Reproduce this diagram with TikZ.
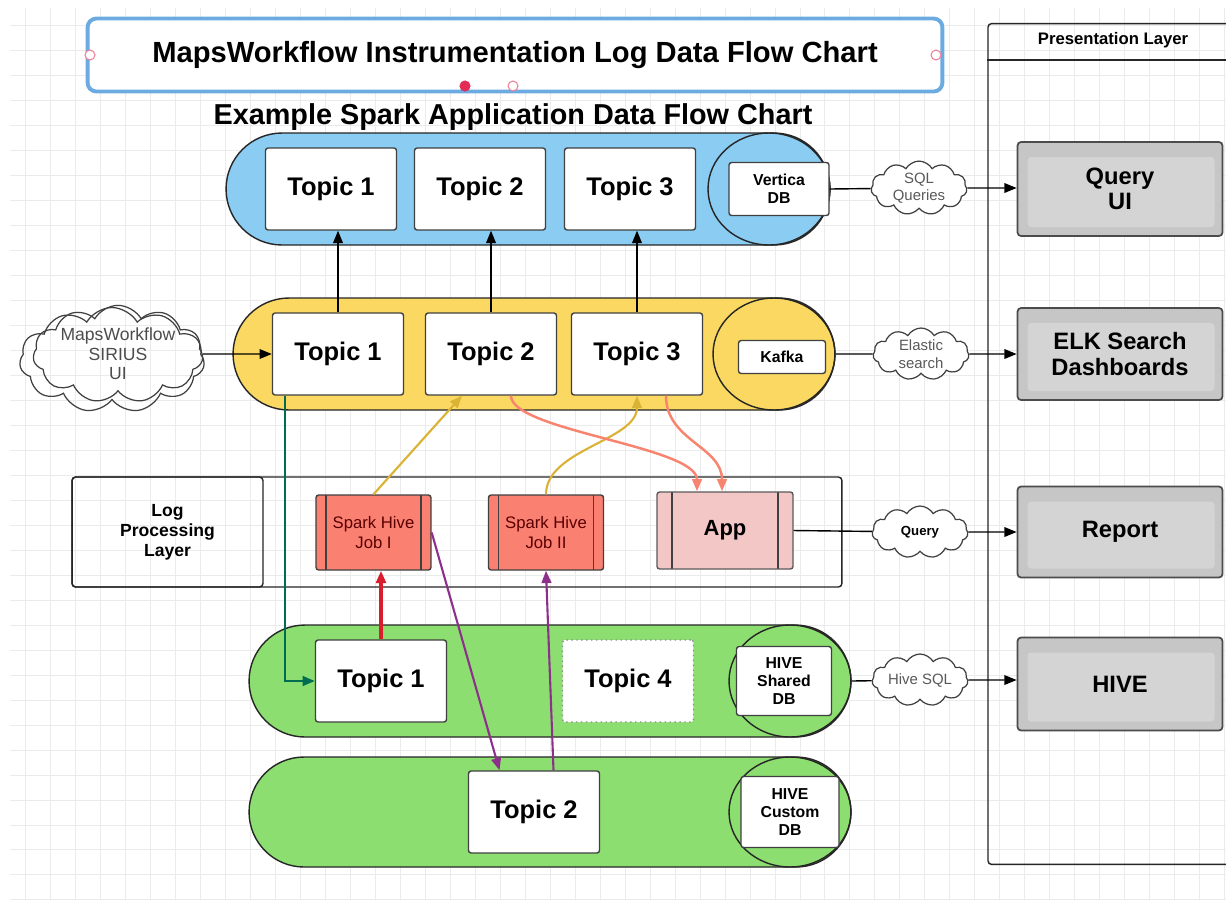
\documentclass[tikz,border=0pt]{standalone}
\usepackage{fontspec}
\setmainfont{Liberation Sans}
\usepackage{tikz}
\usetikzlibrary{shapes.misc,shapes.symbols,shapes.geometric,arrows.meta,positioning}
\definecolor{pillblue}{RGB}{138,204,242}
\definecolor{pillyellow}{RGB}{250,216,98}
\definecolor{pillgreen}{RGB}{140,222,112}
\definecolor{jobred}{RGB}{250,128,114}
\definecolor{apppink}{RGB}{244,199,199}
\definecolor{titleblue}{RGB}{108,170,226}
\definecolor{goldarr}{RGB}{218,178,52}
\definecolor{salmonarr}{RGB}{248,132,112}
\definecolor{purplearr}{RGB}{140,48,140}
\definecolor{redarr}{RGB}{218,28,44}
\definecolor{tealarr}{RGB}{0,108,80}
\definecolor{boxgray}{RGB}{198,198,198}
\definecolor{boxgrayin}{RGB}{212,212,212}
\definecolor{handlered}{RGB}{225,45,85}

\begin{document}
\begin{tikzpicture}[x=0.02cm,y=-0.02cm,
  pill/.style={rounded rectangle,draw=black!85,line width=0.8pt,minimum height=2.24cm,inner sep=0pt},
  dbring/.style={ellipse,draw=black!85,line width=0.8pt,minimum width=2.44cm,minimum height=2.24cm,inner sep=0pt},
  topic/.style={draw=black!75,fill=white,line width=0.8pt,rounded corners=1.5pt,minimum width=2.62cm,minimum height=1.64cm,font=\fontsize{14.5}{16}\selectfont\bfseries},
  dbbox/.style={draw=black!75,fill=white,line width=0.8pt,rounded corners=1.5pt,align=center,inner sep=1pt,font=\fontsize{9}{10.5}\selectfont\bfseries},
  jobbox/.style={draw=black!75,line width=0.8pt,rounded corners=1.5pt,align=center,
    path picture={\draw[black!75,line width=0.8pt]
      ([xshift=#1]path picture bounding box.north west) -- ([xshift=#1]path picture bounding box.south west)
      ([xshift=-#1]path picture bounding box.north east) -- ([xshift=-#1]path picture bounding box.south east);}},
  presbox/.style={draw=black!70,fill=boxgray,line width=1pt,rounded corners=2pt,minimum width=4.1cm,align=center,
    font=\fontsize{13.5}{14.5}\selectfont\bfseries,
    path picture={\fill[boxgrayin] ([shift={(0.2cm,-0.3cm)}]path picture bounding box.north west)
      rectangle ([shift={(-0.16cm,0.18cm)}]path picture bounding box.south east);}},
  cloudn/.style={cloud,cloud puffs=11,cloud puff arc=120,cloud ignores aspect,draw=black!75,fill=white,line width=0.7pt,
    align=center,inner sep=0pt,minimum width=1.92cm,minimum height=1.04cm,text=black!65,font=\fontsize{8.5}{10}\selectfont},
  handle/.style={circle,draw=handlered!60,fill=white,line width=0.6pt,inner sep=0pt,minimum size=0.2cm},
  arr/.style={-{Triangle[length=7pt,width=5.5pt]},line width=0.8pt}]
\useasboundingbox (0,0) rectangle (1226,907);
\clip (0,0) rectangle (1226,907);
\fill[white] (0,0) rectangle (1226,907);
\draw[step=0.5cm,black!8,line width=0.4pt] (10,8) grid (1226,900);

\node[draw=titleblue,line width=2.2pt,rounded corners=5pt,fill=white,minimum width=17.1cm,minimum height=1.46cm,
  font=\fontsize{16.6}{18}\selectfont\bfseries] (title) at (515,55) {MapsWorkflow Instrumentation Log Data Flow Chart};
\node[handle] (h1) at (90,55) {};
\node[handle] (h2) at (936,55) {};
\node[handle] (h3) at (513,86) {};
\node[handle,fill=handlered,draw=handlered] (h4) at (465,86) {};
\node[font=\fontsize{16.4}{18}\selectfont\bfseries] (sub) at (513,117) {Example Spark Application Data Flow Chart};

\node[draw=black!85,line width=0.8pt,rounded corners=2pt,minimum width=5.04cm,minimum height=16.82cm] (pl) at (1114,444) {};
\draw[black!85,line width=0.8pt] (pl.west |- 0,60) -- (pl.east |- 0,60);
\node[font=\fontsize{9.5}{11}\selectfont\bfseries] (plt) at (1113,40) {Presentation Layer};
\node[presbox,minimum height=1.88cm] (qui) at (1120,189) {Query\\UI};
\node[presbox,minimum height=1.84cm] (elk) at (1120,354) {ELK Search\\Dashboards};
\node[presbox,minimum height=1.82cm] (rep) at (1120,532) {Report};
\node[presbox,minimum height=1.86cm] (hive) at (1120,684) {HIVE};

\node[pill,fill=pillblue,minimum width=12.08cm] (bpill) at (528,189) {};
\node[dbring] (bring) at (769,189) {};
\node[topic] (bt1) at (331,189) {Topic 1};
\node[topic] (bt2) at (480,189) {Topic 2};
\node[topic] (bt3) at (630,189) {Topic 3};
\node[dbbox,minimum width=2cm,minimum height=1.06cm] (vdb) at (779,189) {Vertica\\DB};

\node[pill,fill=pillyellow,minimum width=12.04cm] (ypill) at (534,354) {};
\node[dbring] (yring) at (774,354) {};
\node[topic] (yt1) at (338,354) {Topic 1};
\node[topic] (yt2) at (491,354) {Topic 2};
\node[topic] (yt3) at (637,354) {Topic 3};
\node[dbbox,minimum width=1.74cm,minimum height=0.66cm] (kafka) at (782,357) {Kafka};

\node[draw=black!85,line width=0.8pt,rounded corners=2pt,minimum width=15.4cm,minimum height=2.2cm] (lpl) at (457,532) {};
\node[draw=black!85,line width=0.8pt,rounded corners=2pt,minimum width=3.82cm,minimum height=2.2cm,align=center,
  font=\fontsize{10}{11.5}\selectfont\bfseries] (lplab) at (167.5,532) {Log\\Processing\\Layer};
\node[jobbox=0.2cm,fill=jobred,minimum width=2.3cm,minimum height=1.5cm,text=red!35!black,
  font=\fontsize{9.5}{11}\selectfont] (j1) at (373.5,532.5) {Spark Hive\\Job I};
\node[jobbox=0.2cm,fill=jobred,minimum width=2.3cm,minimum height=1.5cm,text=red!35!black,
  font=\fontsize{9.5}{11}\selectfont] (j2) at (546,532.5) {Spark Hive\\Job II};
\node[jobbox=0.3cm,fill=apppink,draw=black!65,minimum width=2.72cm,minimum height=1.54cm,
  font=\fontsize{12.5}{14}\selectfont\bfseries] (app) at (725,530.5) {App};

\node[pill,fill=pillgreen,minimum width=12.04cm] (gpill1) at (550,681) {};
\node[dbring] (gring1) at (790,681) {};
\node[topic] (gt1) at (381,681) {Topic 1};
\node[topic,draw=black!45,dotted] (gt4) at (628,681) {Topic 4};
\node[dbbox,minimum width=1.9cm,minimum height=1.38cm] (hsdb) at (784,681) {HIVE\\Shared\\DB};

\node[pill,fill=pillgreen,minimum width=12.04cm,minimum height=2.2cm] (gpill2) at (550,812) {};
\node[dbring,minimum height=2.2cm] (gring2) at (790,812) {};
\node[topic] (gt2) at (534,812) {Topic 2};
\node[dbbox,minimum width=1.96cm,minimum height=1.42cm] (hcdb) at (790,812) {HIVE\\Custom\\DB};

\node[cloudn,minimum width=3.7cm,minimum height=2.1cm,fill=none] (mwc2) at (112,360) {};
\node[cloudn,minimum width=3.4cm,minimum height=1.9cm,fill=none,text=black!70,
  font=\fontsize{10}{11.2}\selectfont] (mwc) at (118,354) {MapsWorkflow\\SIRIUS\\UI};
\node[cloudn] (sqlc) at (919,188) {SQL\\Queries};
\node[cloudn] (elc) at (921,354) {Elastic\\search};
\node[cloudn,text=black,font=\fontsize{7.5}{9}\selectfont\bfseries] (qc) at (920,532) {Query};
\node[cloudn] (hqc) at (920,680) {Hive SQL};

\draw[line width=0.8pt] (vdb.east) -- (sqlc);
\draw[arr] (sqlc) -- (sqlc -| qui.west);
\draw[line width=0.8pt] (yring.east) -- (elc);
\draw[arr] (elc) -- (elc -| elk.west);
\draw[line width=0.8pt] (app.east) -- (qc);
\draw[arr] (qc) -- (qc -| rep.west);
\draw[line width=0.8pt] (gring1.east) -- (hqc);
\draw[arr] (hqc) -- (hqc -| hive.west);
\draw[arr] (mwc) -- (yt1.west);
\foreach \a/\b in {yt1/bt1,yt2/bt2,yt3/bt3}
  \draw[arr] (\a.north) -- (\a.north |- \b.south);
\draw[arr,tealarr,line width=1.4pt] ([xshift=-1.06cm]yt1.south) |- (gt1.west);
\draw[arr,redarr,line width=2.4pt] (gt1.north) -- (gt1.north |- j1.south);
\draw[arr,purplearr,line width=1.2pt] (j1.east) -- ([xshift=-0.69cm]gt2.north);
\draw[arr,purplearr,line width=1.2pt] ([xshift=0.39cm]gt2.north) -- (j2.south);
\draw[arr,goldarr,line width=1.2pt] (j1.north) -- ([xshift=-0.58cm]yt2.south);
\draw[arr,goldarr,line width=1.2pt] (j2.north) .. controls +(0,-45) and +(0,45) .. (yt3.south);
\draw[arr,salmonarr,line width=1.4pt] ([xshift=0.4cm]yt2.south) .. controls +(0,35) and +(0,-45) .. ([xshift=-0.56cm]app.north);
\draw[arr,salmonarr,line width=1.4pt] ([xshift=0.58cm]yt3.south) .. controls +(0,45) and +(0,-45) .. ([xshift=-0.06cm]app.north);
\end{tikzpicture}
\end{document}
